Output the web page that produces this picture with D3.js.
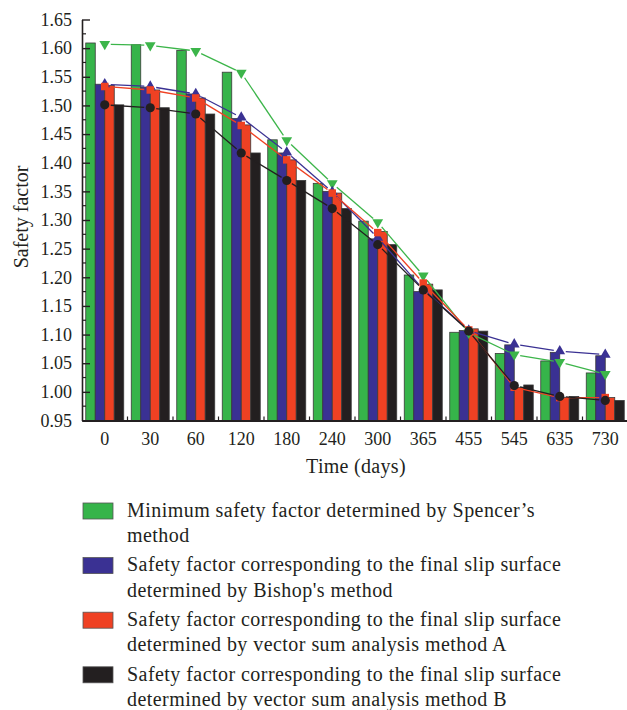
<!DOCTYPE html>
<html>
<head>
<meta charset="utf-8">
<script src="https://cdn.jsdelivr.net/npm/d3@7"></script>
<style>
  html, body { margin: 0; padding: 0; background: #fff; }
  svg { display: block; }
  text { font-family: "Liberation Serif", "Times New Roman", serif; fill: #231f20; }
</style>
</head>
<body>
<svg id="chart" width="627" height="710"></svg>
<script>
// Time after excavation (days)
const days = ["0", "30", "60", "120", "180", "240", "300", "365", "455", "545", "635", "730"];

// Safety factors per method
const spencer = [1.609, 1.606, 1.596, 1.558, 1.440, 1.364, 1.298, 1.204, 1.104, 1.067, 1.054, 1.033];
const bishop  = [1.537, 1.532, 1.520, 1.477, 1.417, 1.350, 1.267, 1.175, 1.107, 1.082, 1.069, 1.063];
const vectorA = [1.535, 1.527, 1.513, 1.466, 1.405, 1.347, 1.280, 1.188, 1.110, 1.008, 0.990, 0.990];
const vectorB = [1.501, 1.496, 1.485, 1.417, 1.369, 1.320, 1.257, 1.178, 1.106, 1.012, 0.992, 0.985];

// Point values along the connecting lines
const spencerLine = [1.607, 1.605, 1.595, 1.557, 1.439, 1.364, 1.296, 1.203, 1.103, 1.065, 1.052, 1.031];
const bishopLine  = [1.537, 1.533, 1.520, 1.479, 1.418, 1.349, 1.269, 1.179, 1.107, 1.083, 1.071, 1.065];
const vectorALine = [1.533, 1.527, 1.513, 1.465, 1.405, 1.347, 1.278, 1.190, 1.108, 1.008, 0.990, 0.990];
const vectorBLine = [1.501, 1.496, 1.485, 1.417, 1.369, 1.320, 1.257, 1.178, 1.106, 1.011, 0.992, 0.985];

const yTicks = [0.95, 1.00, 1.05, 1.10, 1.15, 1.20, 1.25, 1.30, 1.35, 1.40, 1.45, 1.50, 1.55, 1.60, 1.65];

const legendLabels = [
  ["Minimum safety factor determined by Spencer\u2019s", "method"],
  ["Safety factor corresponding to the final slip surface", "determined by Bishop's method"],
  ["Safety factor corresponding to the final slip surface", "determined by vector sum analysis method A"],
  ["Safety factor corresponding to the final slip surface", "determined by vector sum analysis method B"]
];

const series = [
  { key: "spencer", bars: spencer, line: spencerLine, color: "#36b44a", lineColor: "#3cb54a", marker: "tdown" },
  { key: "bishop",  bars: bishop,  line: bishopLine,  color: "#3a3193", lineColor: "#3a3193", marker: "tup" },
  { key: "vectorA", bars: vectorA, line: vectorALine, color: "#ef4123", lineColor: "#ef4123", marker: "square" },
  { key: "vectorB", bars: vectorB, line: vectorBLine, color: "#231f20", lineColor: "#231f20", marker: "circle" }
];

const svg = d3.select("#chart");
const plotLeft = 82, plotRight = 628, plotTop = 19.5, plotBottom = 420.5;

const y = d3.scaleLinear().domain([0.95, 1.65]).range([plotBottom, plotTop]);
const x0 = d3.scaleBand().domain(days).range([plotLeft, plotRight]).paddingInner(0.165).paddingOuter(0.0825);
const x1 = d3.scaleBand().domain(series.map(s => s.key)).range([0, x0.bandwidth()]);
const cx = d => x0(d) + x0.bandwidth() / 2;

// Bars
const groups = svg.append("g").selectAll("g").data(series).join("g");
groups.selectAll("rect")
  .data(s => s.bars.map((v, i) => ({ v, day: days[i], s })))
  .join("rect")
  .attr("x", d => x0(d.day) + x1(d.s.key))
  .attr("y", d => y(d.v))
  .attr("width", x1.bandwidth())
  .attr("height", d => y(0.95) - y(d.v))
  .attr("fill", d => d.s.color)
  .attr("stroke", "#3a3a3a")
  .attr("stroke-width", 0.8);

// Connecting lines, broken slightly around each marker
const gap = 6;
series.forEach(s => {
  const pts = s.line.map((v, i) => [cx(days[i]), y(v)]);
  const segs = [];
  for (let i = 0; i < pts.length - 1; i++) {
    const [xa, ya] = pts[i], [xb, yb] = pts[i + 1];
    const len = Math.hypot(xb - xa, yb - ya);
    const ux = (xb - xa) / len, uy = (yb - ya) / len;
    segs.push([[xa + ux * gap, ya + uy * gap], [xb - ux * gap, yb - uy * gap]]);
  }
  svg.append("g").selectAll("line").data(segs).join("line")
    .attr("x1", d => d[0][0]).attr("y1", d => d[0][1])
    .attr("x2", d => d[1][0]).attr("y2", d => d[1][1])
    .attr("stroke", s.lineColor).attr("stroke-width", 1.3);
});

// Markers
const symbolFor = {
  tdown: d3.symbol().type(d3.symbolTriangle).size(50),
  tup: d3.symbol().type(d3.symbolTriangle).size(50),
  square: d3.symbol().type(d3.symbolSquare).size(56),
  circle: d3.symbol().type(d3.symbolCircle).size(66)
};
series.forEach(s => {
  svg.append("g").selectAll("path")
    .data(s.line.map((v, i) => ({ v, day: days[i] })))
    .join("path")
    .attr("d", symbolFor[s.marker])
    .attr("transform", d => `translate(${cx(d.day)},${y(d.v)})${s.marker === "tdown" ? " rotate(180)" : ""}`)
    .attr("fill", s.lineColor);
});

// Y axis
const yAxis = d3.axisLeft(y).tickValues(yTicks).tickFormat(d3.format(".2f"))
  .tickSizeInner(-8).tickSizeOuter(0).tickPadding(10);
const gy = svg.append("g").attr("transform", `translate(${plotLeft},0)`).call(yAxis);
gy.select(".domain").attr("stroke", "#231f20").attr("stroke-width", 1.6);
gy.selectAll(".tick line").attr("stroke", "#231f20").attr("stroke-width", 1.4);
gy.selectAll("text").style("font-size", "18px").attr("fill", "#231f20");
const minor = d3.range(0, yTicks.length - 1).map(i => yTicks[i] + 0.025);
svg.append("g").selectAll("line").data(minor).join("line")
  .attr("x1", plotLeft).attr("x2", plotLeft + 4)
  .attr("y1", d => y(d)).attr("y2", d => y(d))
  .attr("stroke", "#231f20").attr("stroke-width", 1.2);

// X axis
const xAxis = d3.axisBottom(x0).tickSize(0).tickPadding(12).tickSizeOuter(0);
const gx = svg.append("g").attr("transform", `translate(0,${plotBottom})`).call(xAxis);
gx.select(".domain").attr("stroke", "#231f20").attr("stroke-width", 1.8);
gx.selectAll("text").style("font-size", "18px").attr("fill", "#231f20");
const bounds = days.slice(1).map(d => x0(d) - x0.step() * x0.paddingInner() / 2);
svg.append("g").selectAll("line").data(bounds).join("line")
  .attr("x1", d => d).attr("x2", d => d)
  .attr("y1", plotBottom).attr("y2", plotBottom - 4)
  .attr("stroke", "#231f20").attr("stroke-width", 1.2);

// Axis titles
svg.append("text").attr("x", 356).attr("y", 473).attr("text-anchor", "middle")
  .style("font-size", "20px").style("letter-spacing", "0.3px").text("Time (days)");
svg.append("text").attr("transform", "translate(28,217) rotate(-90)").attr("text-anchor", "middle")
  .style("font-size", "20px").text("Safety factor");

// Legend
const legend = svg.append("g");
series.forEach((s, i) => {
  const cy = 511 + i * 54.6;
  legend.append("rect").attr("x", 83).attr("y", cy - 8).attr("width", 30).attr("height", 16)
    .attr("fill", s.color).attr("stroke", "#555").attr("stroke-width", 0.8);
  legendLabels[i].forEach((t, j) => {
    legend.append("text").attr("x", 127).attr("y", cy + 5.7 + j * 25.5)
      .style("font-size", "20px").style("letter-spacing", "0.45px").text(t);
  });
});
</script>
</body>
</html>
